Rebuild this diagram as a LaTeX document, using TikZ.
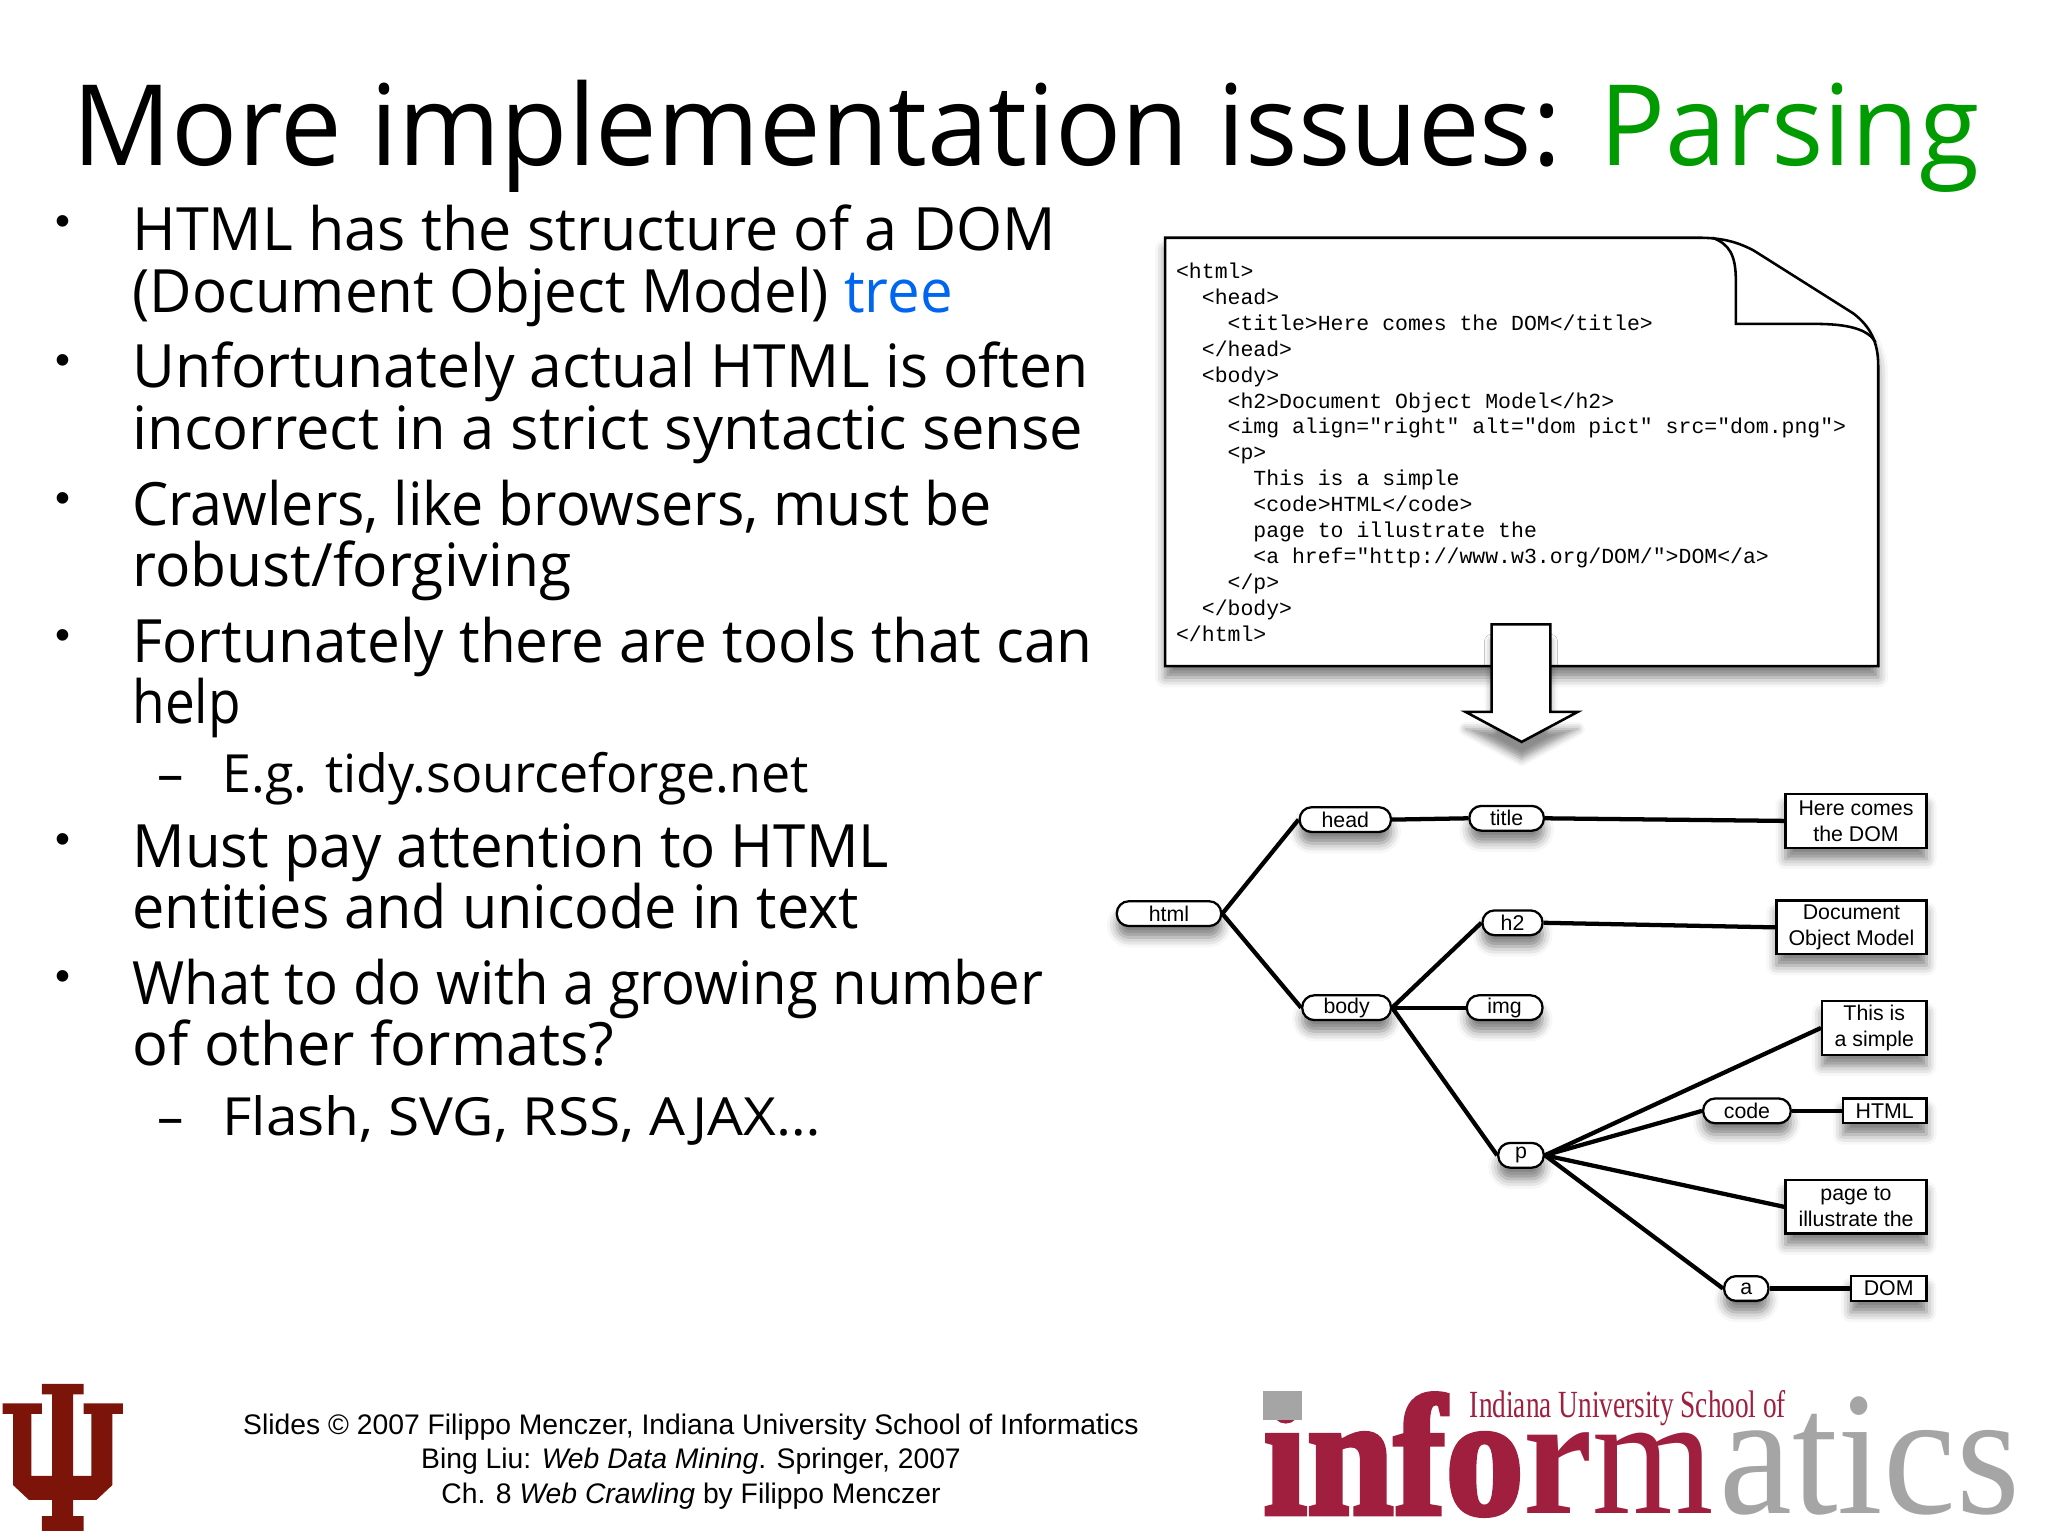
\documentclass[tikz,border=0pt]{standalone}
\usepackage{fontspec}
\usepackage{graphicx}
\usetikzlibrary{shapes.misc,shadows.blur}
\newfontfamily\headfont{Open Sans}
\newfontfamily\smallfont{Liberation Sans}
\newfontfamily\codefont{Liberation Mono}
\newfontfamily\logofont{Liberation Serif}
\newfontfamily\heavyfont[FakeBold=3]{Liberation Serif Bold}
\definecolor{parsegreen}{RGB}{0,155,0}
\definecolor{treeblue}{RGB}{0,102,240}
\definecolor{iured}{RGB}{125,20,10}
\definecolor{logored}{RGB}{160,30,62}
\definecolor{logogrey}{RGB}{165,165,165}
\newcommand{\fitline}[2]{\resizebox{.4592\dimexpr #1pt\relax}{\height}{#2}}
\begin{document}
\begin{tikzpicture}[x=0.4592pt,y=-0.4592pt]
\tikzstyle{soft}=[blur shadow={shadow xshift=0pt,shadow yshift=-4pt,shadow blur radius=3.5pt,shadow opacity=50}]
\tikzstyle{line}=[line width=1.5pt]
\tikzstyle{elem}=[soft,draw,fill=white,line width=0.8pt,rounded corners=4.2pt,minimum height=8.7pt,inner sep=0pt,font=\smallfont\fontsize{7.5}{9.2}\selectfont]
\tikzstyle{leaf}=[soft,draw,fill=white,line width=0.8pt,minimum height=8.7pt,inner sep=0pt,align=center,font=\smallfont\fontsize{7.5}{9.2}\selectfont]
\tikzstyle{txt}=[anchor=base west,inner sep=0pt,font=\headfont\fontsize{21}{21}\selectfont]
\tikzstyle{sub}=[txt,font=\headfont\fontsize{18.5}{21}\selectfont]
\tikzstyle{dot}=[inner sep=0pt,font=\smallfont\fontsize{15}{15}\selectfont]
\useasboundingbox (0,0) rectangle (1568,1176);

\node (1) at (55,127) [txt,font=\headfont\fontsize{39.5}{40}\selectfont]{\fitline{1460}{More implementation issues: \textcolor{parsegreen}{Parsing}}};

\node (2) at (48,173) [dot]{•};
\node (3) at (101,192) [txt]{\fitline{707}{HTML has the structure of a DOM}};
\node (4) at (101,239) [txt]{\fitline{628}{(Document Object Model) \textcolor{treeblue}{tree}}};
\node (5) at (48,279) [dot]{•};
\node (6) at (101,297) [txt]{\fitline{732}{Unfortunately actual HTML is often}};
\node (7) at (101,344) [txt]{\fitline{728}{incorrect in a strict syntactic sense}};
\node (8) at (48,385) [dot]{•};
\node (9) at (101,402) [txt]{\fitline{658}{Crawlers, like browsers, must be}};
\node (10) at (101,449) [txt]{\fitline{336}{robust/forgiving}};
\node (11) at (48,490) [dot]{•};
\node (12) at (101,507) [txt]{\fitline{735}{Fortunately there are tools that can}};
\node (13) at (101,554) [txt]{\fitline{83}{help}};
\node (14) at (120,607) [sub]{–};
\node (15) at (170,607) [sub]{\fitline{449}{E.g. tidy.sourceforge.net}};
\node (16) at (48,646) [dot]{•};
\node (17) at (101,664) [txt]{\fitline{579}{Must pay attention to HTML}};
\node (18) at (101,711) [txt]{\fitline{556}{entities and unicode in text}};
\node (19) at (48,751) [dot]{•};
\node (20) at (101,769) [txt]{\fitline{697}{What to do with a growing number}};
\node (21) at (101,816) [txt]{\fitline{369}{of other formats?}};
\node (22) at (120,869) [sub]{–};
\node (23) at (170,869) [sub]{\fitline{458}{Flash, SVG, RSS, AJAX…}};

\draw[soft,fill=white,line width=0.9pt] (892,182) -- (1300,182) .. controls (1318,182) and (1330,185) .. (1343,192) -- (1419,240) .. controls (1432,250) and (1438,262) .. (1438,280) -- (1438,510) -- (892,510) -- cycle;
\draw[line width=0.9pt] (1311,182) .. controls (1324,187) and (1329,195) .. (1329,215) -- (1329,248) -- (1390,248) .. controls (1415,248) and (1430,252) .. (1436,262);
\node (24) at (900,201) [anchor=north west,inner sep=0pt,align=left,font=\codefont\fontsize{7.55}{9.1}\selectfont]{<html>\\
\ \ <head>\\
\ \ \ \ <title>Here comes the DOM</title>\\
\ \ </head>\\
\ \ <body>\\
\ \ \ \ <h2>Document Object Model</h2>\\
\ \ \ \ <img align="right" alt="dom pict" src="dom.png">\\
\ \ \ \ <p>\\
\ \ \ \ \ \ This is a simple\\
\ \ \ \ \ \ <code>HTML</code>\\
\ \ \ \ \ \ page to illustrate the\\
\ \ \ \ \ \ <a href="http://www.w3.org/DOM/">DOM</a>\\
\ \ \ \ </p>\\
\ \ </body>\\
</html>};
\draw[blur shadow={shadow xshift=0pt,shadow yshift=-6pt,shadow blur radius=2.5pt,shadow opacity=45},fill=white,line width=0.9pt] (1142,478) -- (1187,478) -- (1187,545) -- (1208,545) -- (1165,568) -- (1122,545) -- (1142,545) -- cycle;

\node (25) at (895,699.5) [elem,minimum width=36.7pt]{html};
\node (26) at (1030,627.5) [elem,minimum width=32.1pt]{head};
\node (27) at (1153.5,626.5) [elem,minimum width=26.2pt]{title};
\node (28) at (1421,628.5) [leaf,minimum width=49.6pt,minimum height=18.8pt]{Here comes\\the DOM};
\node (29) at (1031,771.5) [elem,minimum width=31.2pt]{body};
\node (30) at (1158,706.5) [elem,minimum width=21.1pt]{h2};
\node (31) at (1152,771.5) [elem,minimum width=26.6pt]{img};
\node (32) at (1417.5,710) [leaf,minimum width=52.8pt,minimum height=18.8pt]{Document\\Object Model};
\node (33) at (1435,787) [leaf,minimum width=36.7pt,minimum height=18.8pt]{This is\\a simple};
\node (34) at (1337.5,850.5) [elem,minimum width=30.8pt]{code};
\node (35) at (1443,850.5) [leaf,minimum width=29.4pt]{HTML};
\node (36) at (1164.5,884.5) [elem,minimum width=16pt]{p};
\node (37) at (1421,924) [leaf,minimum width=49.6pt,minimum height=18.8pt]{page to\\illustrate the};
\node (38) at (1337,986.5) [elem,minimum width=15.6pt]{a};
\node (39) at (1446,986.5) [leaf,minimum width=26.6pt]{DOM};

\draw[line] (25.east) -- (26.west);
\draw[line] (25.east) -- (29.west);
\draw[line] (26.east) -- (27.west);
\draw[line] (27.east) -- (28.west);
\draw[line] (29.east) -- (30.west);
\draw[line] (29.east) -- (31.west);
\draw[line] (29.east) -- (36.west);
\draw[line] (30.east) -- (32.west);
\draw[line] (36.east) -- (33.west);
\draw[line] (36.east) -- (34.west);
\draw[line] (36.east) -- (37.west);
\draw[line] (36.east) -- (38.west);
\draw[line] (34.east) -- (35.west);
\draw[line] (38.east) -- (39.west);

\fill[iured] (32,1059.5) -- (64,1059.5) -- (64,1067.5) -- (56,1067.5) -- (56,1130) -- (70,1130) -- (70,1082.5) -- (64,1082.5) -- (64,1074.5) -- (94,1074.5) -- (94,1082.5) -- (86,1082.5) -- (86,1137) -- (74,1148.25) -- (56,1148.25) -- (56,1160.75) -- (64,1160.75) -- (64,1172) -- (32,1172) -- (32,1160.75) -- (40,1160.75) -- (40,1148.25) -- (22,1148.25) -- (10,1137) -- (10,1082.5) -- (2,1082.5) -- (2,1074.5) -- (32,1074.5) -- (32,1082.5) -- (24,1082.5) -- (24,1130) -- (40,1130) -- (40,1067.5) -- (32,1067.5) -- cycle;

\node (40) at (529,1119) [inner sep=0pt,align=center,font=\smallfont\fontsize{9.95}{12}\selectfont]{Slides © 2007 Filippo Menczer, Indiana University School of Informatics\\Bing Liu: \textit{Web Data Mining}. Springer, 2007\\Ch. 8 \textit{Web Crawling} by Filippo Menczer};

\node (41) at (967,1159) [anchor=base west,inner sep=0pt,text=logored,font=\logofont\fontsize{60}{60}\selectfont]{\fitline{345}{{\heavyfont info}\textbf{r}m}};
\node (42) at (1316,1159) [anchor=base west,inner sep=0pt,text=logogrey,font=\logofont\fontsize{62}{62}\selectfont]{\fitline{230}{atics}};
\node (43) at (1125,1085) [anchor=base west,inner sep=0pt,text=logored,font=\logofont\fontsize{13.5}{14}\selectfont]{\fitline{242}{Indiana University School of}};
\fill[logogrey] (967,1065) rectangle (997,1087);
\end{tikzpicture}
\end{document}
